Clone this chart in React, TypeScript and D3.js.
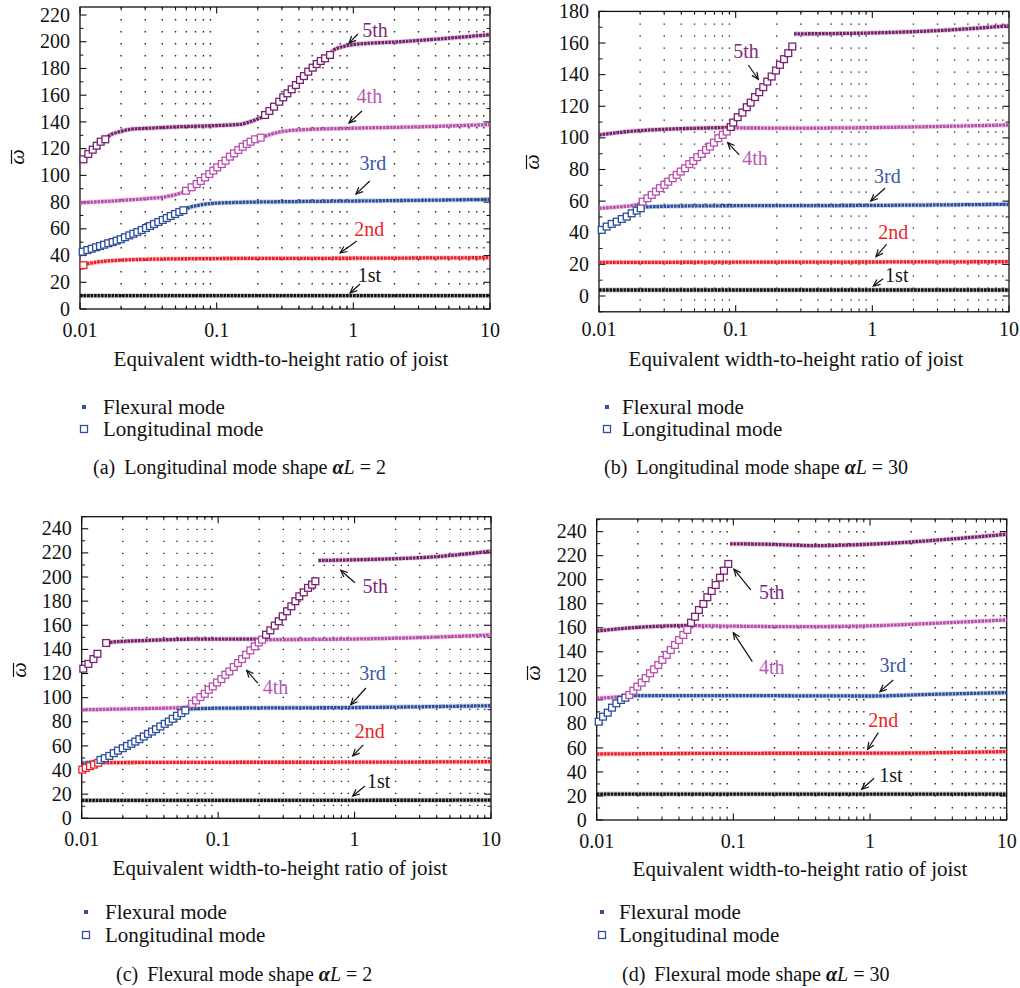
import React from 'react';
import * as d3 from 'd3';

type Pt = [number, number];

// ---------- shared axis values ----------
const X_TICKS = [0.01, 0.1, 1, 10];
const X_TICK_LABELS = ['0.01', '0.1', '1', '10'];
const X_MINOR_MULT = [2, 3, 4, 5, 6, 7, 8, 9];
const MODE_LABELS = ['1st', '2nd', '3rd', '4th', '5th'];
const XLABEL = 'Equivalent width-to-height ratio of joist';
const LEGEND_LABELS = ['Flexural mode', 'Longitudinal mode'];

// ---------- panel (a) ----------
const A_F1: Pt[] = [[0.01, 10], [10, 10]];
const A_L2: Pt[] = [[0.0106, 32.8]];
const A_F2: Pt[] = [[0.0112, 33.8], [0.014, 35.4], [0.0196, 36.5], [0.0406, 37.4], [0.125, 37.8], [1, 38], [10, 38.4]];
const A_L3: Pt[] = [[0.01047, 42.9], [0.01132, 44.1], [0.01217, 45.1], [0.0131, 46.2], [0.014, 47.1], [0.015, 48.1], [0.0161, 49.2], [0.01734, 50.1], [0.01854, 51.1], [0.01986, 52.2], [0.02133, 53.7], [0.02296, 55.1], [0.02455, 56.3], [0.02627, 57.6], [0.02826, 59.1], [0.03039, 60.6], [0.0325, 62.1], [0.03478, 63.6], [0.0374, 65.1], [0.0403, 66.6], [0.0431, 68.1], [0.0461, 69.6], [0.0496, 71.1], [0.0533, 72.6], [0.057, 73.9]];
const A_F3: Pt[] = [[0.0575, 74.5], [0.0637, 76.1], [0.0752, 77.8], [0.0945, 79.1], [0.125, 79.6], [0.3, 80.3], [1, 80.8], [10, 82]];
const A_F4a: Pt[] = [[0.01, 79.5], [0.0196, 81.2], [0.0307, 82.6], [0.0455, 84.6], [0.0554, 87], [0.06, 88.5]];
const A_L4: Pt[] = [[0.0597, 88.5], [0.0656, 91.1], [0.0714, 93.5], [0.0764, 95.8], [0.0822, 98.5], [0.0884, 101], [0.0946, 103.5], [0.101, 106], [0.109, 108.5], [0.116, 111], [0.125, 114], [0.134, 116.5], [0.144, 119], [0.155, 121.4], [0.166, 123.5], [0.177, 125.2], [0.191, 127], [0.21, 128.2]];
const A_F4b: Pt[] = [[0.212, 128.4], [0.24, 130.2], [0.29, 132.5], [0.4, 134], [1, 135.3], [3, 136.3], [10, 138]];
const A_L5a: Pt[] = [[0.0106, 112], [0.0115, 116], [0.01239, 119.2], [0.01325, 122.2], [0.01417, 125.2], [0.01532, 127]];
const A_F5a: Pt[] = [[0.0153, 127.5], [0.0166, 130.2], [0.0196, 132.7], [0.0232, 134.5], [0.0307, 135.2], [0.0539, 136.4], [0.0945, 137.2], [0.1486, 138.2], [0.1857, 141], [0.215, 143.5]];
const A_L5b: Pt[] = [[0.226, 145.2], [0.243, 148.2], [0.263, 151.4], [0.287, 155.1], [0.307, 158.4], [0.329, 161.4], [0.354, 164.4], [0.38, 167.6], [0.407, 171.4], [0.435, 174.3], [0.468, 177.6], [0.504, 180.6], [0.539, 183.3], [0.577, 185.6], [0.621, 187.6], [0.675, 190.1]];
const A_F5b: Pt[] = [[0.69, 191.5], [0.713, 193.5], [0.85, 196.5], [1.02, 198], [2.19, 200], [5, 202.7], [10, 205.3]];

// ---------- panel (b) ----------
const B_F1: Pt[] = [[0.01, 3.8], [10, 3.8]];
const B_F2: Pt[] = [[0.01, 21.2], [0.1, 21.4], [1, 21.5], [10, 21.7]];
const B_L3: Pt[] = [[0.01047, 41.8], [0.01138, 43.9], [0.01238, 45.6], [0.01348, 47], [0.01466, 48.7], [0.01595, 50.2], [0.01734, 52.3], [0.01888, 54], [0.0202, 55.5]];
const B_F3: Pt[] = [[0.0208, 56], [0.0217, 56.3], [0.0548, 57], [1, 57.3], [10, 58]];
const B_F4a: Pt[] = [[0.01, 55.5], [0.0142, 56.4], [0.0185, 57.6], [0.0205, 58.6]];
const B_L4: Pt[] = [[0.02088, 59.7], [0.0226, 61.8], [0.0243, 63.9], [0.0261, 66], [0.0279, 68.2], [0.0301, 70.3], [0.0321, 72.3], [0.0346, 74.5], [0.037, 76.6], [0.0396, 78.7], [0.0426, 80.8], [0.0458, 83.4], [0.049, 85.4], [0.0524, 87.8], [0.0564, 89.9], [0.0607, 92.4], [0.0649, 94.5], [0.0694, 97], [0.0747, 99.8], [0.0804, 101.9], [0.086, 104]];
const B_F4b: Pt[] = [[0.09, 106.3], [0.3, 106.2], [1, 106.5], [3, 107.2], [10, 108.2]];
const B_F5a: Pt[] = [[0.01, 101.9], [0.0178, 104.3], [0.0313, 105.5], [0.0726, 106.4], [0.092, 106.6]];
const B_L5: Pt[] = [[0.092, 106.9], [0.0961, 109.7], [0.1035, 113.1], [0.112, 116], [0.1205, 119.4], [0.1288, 122.3], [0.1385, 125.8], [0.1489, 128.9], [0.1592, 132.1], [0.1703, 135.6], [0.1834, 138.8], [0.1972, 142.6], [0.211, 146.2], [0.2258, 149.8], [0.2427, 153.6], [0.2596, 157.8]];
const B_F5b: Pt[] = [[0.267, 165.8], [0.9, 166.3], [2.78, 167.7], [10, 170.9]];

// ---------- panel (c) ----------
const C_F1: Pt[] = [[0.01, 14.8], [10, 15]];
const C_L2: Pt[] = [[0.0101, 40.3], [0.0107, 41.8], [0.0115, 43.2], [0.0123, 44.5], [0.0132, 46]];
const C_F2: Pt[] = [[0.0135, 46.1], [0.05, 46.4], [1, 46.5], [10, 46.9]];
const C_F3a: Pt[] = [[0.01, 45.7], [0.0135, 47.3]];
const C_L3: Pt[] = [[0.01373, 48.4], [0.01475, 49.8], [0.01594, 51.7], [0.01717, 54], [0.01846, 56.1], [0.01998, 58.1], [0.02148, 60], [0.0231, 61.7], [0.0247, 63.6], [0.02645, 65.6], [0.02848, 67.8], [0.0306, 70], [0.03277, 71.9], [0.03505, 73.9], [0.03769, 76.1], [0.04059, 78.3], [0.04344, 80.2], [0.04647, 82.5], [0.04995, 85], [0.05373, 87.2], [0.05747, 89.4]];
const C_F3b: Pt[] = [[0.059, 90.5], [0.1, 91.3], [1, 91.8], [10, 93.3]];
const C_F4a: Pt[] = [[0.01, 89.9], [0.0234, 90.8], [0.0544, 91.8], [0.062, 92.7]];
const C_L4: Pt[] = [[0.0644, 94.9], [0.0689, 97.7], [0.0741, 100.5], [0.0798, 103.2], [0.0853, 106.5], [0.0913, 109.3], [0.0982, 112.6], [0.1056, 115.4], [0.1129, 119], [0.1208, 121.7], [0.1301, 125.4], [0.1399, 128.7], [0.1497, 132], [0.1601, 135.6], [0.1722, 139.2], [0.1855, 142.5], [0.1985, 145.8], [0.2099, 148.1]];
const C_F4b: Pt[] = [[0.21, 148.1], [0.5, 148.3], [1, 148.6], [3, 149.8], [10, 152]];
const C_L5a: Pt[] = [[0.01027, 124], [0.0112, 128], [0.0122, 132], [0.01304, 136.4], [0.0151, 145.3]];
const C_F5a: Pt[] = [[0.0152, 145.3], [0.0158, 145.8], [0.031, 147.5], [0.0953, 148.6], [0.198, 148.6]];
const C_L5b: Pt[] = [[0.2245, 152.2], [0.2413, 155.8], [0.26, 159.7], [0.2782, 163.3], [0.2976, 167.4], [0.32, 171.6], [0.3441, 175.7], [0.3681, 179.9], [0.3937, 184], [0.4243, 187.3], [0.4561, 191], [0.488, 193.7], [0.516, 196.5]];
const C_F5b: Pt[] = [[0.543, 213.7], [1.23, 214.5], [3.77, 216.7], [10, 221.4]];

// ---------- panel (d) ----------
const D_F1: Pt[] = [[0.01, 21.6], [10, 21.6]];
const D_F2: Pt[] = [[0.01, 54.9], [0.1, 55.5], [1, 55.6], [10, 56.9]];
const D_L3: Pt[] = [[0.01034, 81.8], [0.01112, 86], [0.01204, 89.3], [0.01294, 93.5], [0.01392, 97.1], [0.01506, 99.9], [0.01619, 101.8]];
const D_F3: Pt[] = [[0.0167, 103.5], [0.1, 103.5], [1, 103.2], [2.9, 104.6], [10, 106]];
const D_F4a: Pt[] = [[0.01, 101.3], [0.0135, 102.2], [0.017, 103.4]];
const D_L4: Pt[] = [[0.01733, 104], [0.01853, 107.6], [0.01982, 111], [0.02135, 114.3], [0.02283, 118], [0.02455, 122.1], [0.02626, 125.4], [0.02822, 129], [0.0302, 133.2], [0.03252, 137.4], [0.03479, 141.5], [0.03741, 145.7], [0.04001, 149.8], [0.04302, 154], [0.04603, 158.2]];
const D_F4b: Pt[] = [[0.049, 161.8], [0.1, 161.3], [0.307, 160.9], [0.946, 161.5], [2.9, 163.7], [10, 166.5]];
const D_F5a: Pt[] = [[0.01, 157.3], [0.0185, 160.1], [0.0325, 161.5], [0.0455, 161.8], [0.049, 161.8]];
const D_L5: Pt[] = [[0.049, 164.2], [0.0524, 169.2], [0.056, 174.8], [0.0603, 179.8], [0.0645, 185.4], [0.0694, 190.6], [0.0742, 195.6], [0.0798, 201.7], [0.0854, 207.5], [0.0918, 213.1]];
const D_F5b: Pt[] = [[0.0945, 229.8], [0.1755, 229.5], [0.4073, 228.3], [0.71, 228.9], [1.66, 230.8], [3.8, 233.7], [10, 237.8]];

// ---------- annotations (data units) ----------
type Note = { mode: number; at: Pt; from: Pt; to: Pt };
const A_NOTES: Note[] = [
  { mode: 4, at: [1.44, 203.5], from: [1.08, 205.8], to: [0.93, 199] },
  { mode: 3, at: [1.31, 154.1], from: [1.156, 148.2], to: [0.93, 139.2] },
  { mode: 2, at: [1.39, 104], from: [1.32, 95.8], to: [1.045, 86] },
  { mode: 1, at: [1.31, 54.6], from: [1.06, 50.9], to: [0.8, 41.9] },
  { mode: 0, at: [1.31, 20.2], from: [1.12, 18.7], to: [0.946, 12] },
];
const B_NOTES: Note[] = [
  { mode: 4, at: [0.119, 150.5], from: [0.1237, 146.1], to: [0.1464, 137.1] },
  { mode: 3, at: [0.1385, 82.9], from: [0.1063, 89.2], to: [0.0874, 97] },
  { mode: 2, at: [1.29, 71.7], from: [1.238, 68.1], to: [0.973, 60.1] },
  { mode: 1, at: [1.42, 35.9], from: [1.27, 32.7], to: [1.064, 24.9] },
  { mode: 0, at: [1.51, 9.0], from: [1.2, 10.9], to: [1.016, 6.3] },
];
const C_NOTES: Note[] = [
  { mode: 4, at: [1.42, 186.8], from: [1.007, 195.2], to: [0.791, 205.6] },
  { mode: 3, at: [0.2634, 103], from: [0.195, 112.1], to: [0.162, 122.6] },
  { mode: 2, at: [1.354, 114.8], from: [1.213, 108], to: [0.937, 94.1] },
  { mode: 1, at: [1.29, 66.4], from: [1.159, 60.9], to: [0.969, 51.7] },
  { mode: 0, at: [1.5, 24.9], from: [1.193, 26.8], to: [0.969, 18.5] },
];
const D_NOTES: Note[] = [
  { mode: 4, at: [0.191, 183.7], from: [0.134, 191.5], to: [0.101, 208.7] },
  { mode: 3, at: [0.191, 121.5], from: [0.1376, 131.8], to: [0.0999, 155.9] },
  { mode: 2, at: [1.47, 123.4], from: [1.48, 116.5], to: [1.18, 106.8] },
  { mode: 1, at: [1.25, 77.2], from: [1.15, 72.7], to: [0.96, 58.9] },
  { mode: 0, at: [1.42, 31.9], from: [1.07, 34.7], to: [0.869, 25.6] },
];

// ---------- styles ----------
const MODE_COLORS = ['#141414', '#ec1f28', '#2c4c9c', '#b84fad', '#77206f'];
const LABEL_COLORS = ['#151515', '#ec1f28', '#3a57a8', '#b85ab0', '#7e2a7c'];
const LEGEND_COLOR = '#2f4f9f';
const FONT = '"Liberation Serif", "Times New Roman", serif';

type Seg = { pts: Pt[]; mode: number };
type PanelCfg = {
  left: number; right: number; top: number; bottom: number;
  yDomain: [number, number]; yMajorMax: number; yMinorStart: number;
  flex: Seg[]; lon: Seg[]; notes: Note[];
  tickLabelY: number; xlabelX: number; xlabelY: number;
  legX: number; legY1: number; legY2: number; legTextX: number;
  capX: number; capY: number; capTag: string; capMain: string; capVal: string;
  ylabX: number; ylabY: number;
};

const PANELS: PanelCfg[] = [
  {
    left: 80, right: 490, top: 7, bottom: 309, yDomain: [0, 226], yMajorMax: 220, yMinorStart: 0,
    flex: [{ pts: A_F1, mode: 0 }, { pts: A_F2, mode: 1 }, { pts: A_F3, mode: 2 }, { pts: A_F4a, mode: 3 }, { pts: A_F4b, mode: 3 }, { pts: A_F5a, mode: 4 }, { pts: A_F5b, mode: 4 }],
    lon: [{ pts: A_L2, mode: 1 }, { pts: A_L3, mode: 2 }, { pts: A_L4, mode: 3 }, { pts: A_L5a, mode: 4 }, { pts: A_L5b, mode: 4 }],
    notes: A_NOTES,
    tickLabelY: 337, xlabelX: 281, xlabelY: 366,
    legX: 84, legY1: 407, legY2: 429, legTextX: 103,
    capX: 93, capY: 474, capTag: '(a)', capMain: 'Longitudinal mode shape ', capVal: ' = 2',
    ylabX: 19, ylabY: 157,
  },
  {
    left: 599, right: 1009, top: 11.4, bottom: 311.8, yDomain: [-10, 180], yMajorMax: 180, yMinorStart: -10,
    flex: [{ pts: B_F1, mode: 0 }, { pts: B_F2, mode: 1 }, { pts: B_F3, mode: 2 }, { pts: B_F4a, mode: 3 }, { pts: B_F4b, mode: 3 }, { pts: B_F5a, mode: 4 }, { pts: B_F5b, mode: 4 }],
    lon: [{ pts: B_L3, mode: 2 }, { pts: B_L4, mode: 3 }, { pts: B_L5, mode: 4 }],
    notes: B_NOTES,
    tickLabelY: 336, xlabelX: 796, xlabelY: 366,
    legX: 607, legY1: 407, legY2: 429, legTextX: 622,
    capX: 604, capY: 474, capTag: '(b)', capMain: 'Longitudinal mode shape ', capVal: ' = 30',
    ylabX: 534, ylabY: 162,
  },
  {
    left: 81.7, right: 491, top: 516.7, bottom: 818.3, yDomain: [0, 250], yMajorMax: 240, yMinorStart: 0,
    flex: [{ pts: C_F1, mode: 0 }, { pts: C_F2, mode: 1 }, { pts: C_F3a, mode: 2 }, { pts: C_F3b, mode: 2 }, { pts: C_F4a, mode: 3 }, { pts: C_F4b, mode: 3 }, { pts: C_F5a, mode: 4 }, { pts: C_F5b, mode: 4 }],
    lon: [{ pts: C_L2, mode: 1 }, { pts: C_L3, mode: 2 }, { pts: C_L4, mode: 3 }, { pts: C_L5a, mode: 4 }, { pts: C_L5b, mode: 4 }],
    notes: C_NOTES,
    tickLabelY: 846, xlabelX: 280, xlabelY: 875,
    legX: 86, legY1: 912, legY2: 935, legTextX: 105,
    capX: 116, capY: 981, capTag: '(c)', capMain: 'Flexural mode shape ', capVal: ' = 2',
    ylabX: 21, ylabY: 670,
  },
  {
    left: 596.7, right: 1006.7, top: 519, bottom: 820, yDomain: [0, 250.5], yMajorMax: 240, yMinorStart: 0,
    flex: [{ pts: D_F1, mode: 0 }, { pts: D_F2, mode: 1 }, { pts: D_F3, mode: 2 }, { pts: D_F4a, mode: 3 }, { pts: D_F4b, mode: 3 }, { pts: D_F5a, mode: 4 }, { pts: D_F5b, mode: 4 }],
    lon: [{ pts: D_L3, mode: 2 }, { pts: D_L4, mode: 3 }, { pts: D_L5, mode: 4 }],
    notes: D_NOTES,
    tickLabelY: 848, xlabelX: 800, xlabelY: 876,
    legX: 602, legY1: 912, legY2: 935, legTextX: 619,
    capX: 622, capY: 981, capTag: '(d)', capMain: 'Flexural mode shape ', capVal: ' = 30',
    ylabX: 535, ylabY: 673,
  },
];

function Arrow({ x1, y1, x2, y2 }: { x1: number; y1: number; x2: number; y2: number }) {
  const ang = Math.atan2(y2 - y1, x2 - x1);
  const L = 7.5, a = 0.42;
  const p1 = [x2 - L * Math.cos(ang - a), y2 - L * Math.sin(ang - a)];
  const p2 = [x2 - L * Math.cos(ang + a), y2 - L * Math.sin(ang + a)];
  return (
    <g stroke="#111" strokeWidth={1.2} fill="none">
      <line x1={x1} y1={y1} x2={x2} y2={y2} />
      <polyline points={`${p1[0]},${p1[1]} ${x2},${y2} ${p2[0]},${p2[1]}`} />
    </g>
  );
}

function Panel({ p }: { p: PanelCfg }) {
  const x = d3.scaleLog().domain([0.01, 10]).range([p.left, p.right]);
  const y = d3.scaleLinear().domain(p.yDomain).range([p.bottom, p.top]);
  const line = d3.line<Pt>().x(d => x(d[0])).y(d => y(d[1])).curve(d3.curveMonotoneX);
  const minorX: number[] = [];
  [0.01, 0.1, 1].forEach(dec => X_MINOR_MULT.forEach(m => minorX.push(dec * m)));
  const yMajor = d3.range(0, p.yMajorMax + 1, 20);
  const yMinor = d3.range(p.yMinorStart, p.yDomain[1] + 0.01, 10).filter(v => Math.abs(v % 20) > 1e-6);
  const sq = 6.8;

  return (
    <g fontFamily={FONT}>
      {/* dotted grid */}
      {minorX.map((v, i) => (
        <line key={'g' + i} x1={x(v)} x2={x(v)} y1={p.top} y2={p.bottom} stroke="#222" strokeWidth={1.4} strokeDasharray="1.4 10.6" />
      ))}
      {/* frame */}
      <rect x={p.left} y={p.top} width={p.right - p.left} height={p.bottom - p.top} fill="none" stroke="#111" strokeWidth={1.3} />
      {/* x ticks */}
      {X_TICKS.map((v, i) => (
        <g key={'xt' + i} stroke="#111" strokeWidth={1.1}>
          <line x1={x(v)} x2={x(v)} y1={p.bottom} y2={p.bottom - 6.5} />
          <line x1={x(v)} x2={x(v)} y1={p.top} y2={p.top + 6.5} />
        </g>
      ))}
      {minorX.map((v, i) => (
        <g key={'xm' + i} stroke="#111" strokeWidth={1}>
          <line x1={x(v)} x2={x(v)} y1={p.bottom} y2={p.bottom - 3.5} />
          <line x1={x(v)} x2={x(v)} y1={p.top} y2={p.top + 3.5} />
        </g>
      ))}
      {/* y ticks */}
      {yMajor.map((v, i) => (
        <g key={'yt' + i} stroke="#111" strokeWidth={1.1}>
          <line x1={p.left} x2={p.left + 6.5} y1={y(v)} y2={y(v)} />
          <line x1={p.right} x2={p.right - 6.5} y1={y(v)} y2={y(v)} />
        </g>
      ))}
      {yMinor.map((v, i) => (
        <g key={'ym' + i} stroke="#111" strokeWidth={1}>
          <line x1={p.left} x2={p.left + 3.5} y1={y(v)} y2={y(v)} />
          <line x1={p.right} x2={p.right - 3.5} y1={y(v)} y2={y(v)} />
        </g>
      ))}
      {/* tick labels */}
      {yMajor.map((v, i) => (
        <text key={'yl' + i} x={p.left - 10} y={y(v)} dy="0.33em" textAnchor="end" fontSize={20} fill="#111">{v}</text>
      ))}
      {X_TICKS.map((v, i) => (
        <text key={'xl' + i} x={x(v)} y={p.tickLabelY} textAnchor="middle" fontSize={20} fill="#111">{X_TICK_LABELS[i]}</text>
      ))}
      {/* axis labels */}
      <text x={p.xlabelX} y={p.xlabelY} textAnchor="middle" fontSize={21} fill="#111">{XLABEL}</text>
      <g transform={`translate(${p.ylabX},${p.ylabY}) rotate(-90)`}>
        <text x={0} y={5} textAnchor="middle" fontSize={22} fontStyle="italic" fill="#111">ω</text>
        <line x1={-7} x2={7} y1={-7.5} y2={-7.5} stroke="#111" strokeWidth={1.2} />
      </g>
      {/* flexural curves */}
      {p.flex.map((s, i) => (
        <g key={'f' + i}>
          <path d={line(s.pts) || ''} fill="none" stroke={MODE_COLORS[s.mode]} strokeOpacity={0.22} strokeWidth={5} />
          <path d={line(s.pts) || ''} fill="none" stroke={MODE_COLORS[s.mode]} strokeWidth={3.3} strokeDasharray="2.7 0.8" />
        </g>
      ))}
      {/* longitudinal squares */}
      {p.lon.map((s, i) => (
        <g key={'l' + i}>
          {s.pts.map((d, j) => (
            <rect key={j} x={x(d[0]) - sq / 2} y={y(d[1]) - sq / 2} width={sq} height={sq} fill="#fff" stroke={MODE_COLORS[s.mode]} strokeWidth={1.3} />
          ))}
        </g>
      ))}
      {/* annotations */}
      {p.notes.map((n, i) => (
        <g key={'n' + i}>
          <text x={x(n.at[0])} y={y(n.at[1])} textAnchor="middle" fontSize={20} fill={LABEL_COLORS[n.mode]}>{MODE_LABELS[n.mode]}</text>
          <Arrow x1={x(n.from[0])} y1={y(n.from[1])} x2={x(n.to[0])} y2={y(n.to[1])} />
        </g>
      ))}
      {/* legend */}
      <rect x={p.legX - 2} y={p.legY1 - 2} width={4} height={4} fill={LEGEND_COLOR} />
      <rect x={p.legX - 3.5} y={p.legY2 - 3.5} width={7} height={7} fill="#fff" stroke={LEGEND_COLOR} strokeWidth={1.3} />
      <text x={p.legTextX} y={p.legY1 + 6.5} fontSize={21} fill="#111">{LEGEND_LABELS[0]}</text>
      <text x={p.legTextX} y={p.legY2 + 6.5} fontSize={21} fill="#111">{LEGEND_LABELS[1]}</text>
      {/* caption */}
      <text x={p.capX} y={p.capY} fontSize={20} fill="#111">
        <tspan>{p.capTag}</tspan>
        <tspan dx={9}>{p.capMain}</tspan>
        <tspan fontStyle="italic" fontWeight="bold">α</tspan>
        <tspan fontStyle="italic">L</tspan>
        <tspan>{p.capVal}</tspan>
      </text>
    </g>
  );
}

export default function App() {
  return (
    <svg width={1020} height={988} viewBox="0 0 1020 988" style={{ position: 'absolute', left: 0, top: 0, background: '#fff' }}>
      <rect x={0} y={0} width={1020} height={988} fill="#fff" />
      {PANELS.map((p, i) => <Panel key={i} p={p} />)}
    </svg>
  );
}
